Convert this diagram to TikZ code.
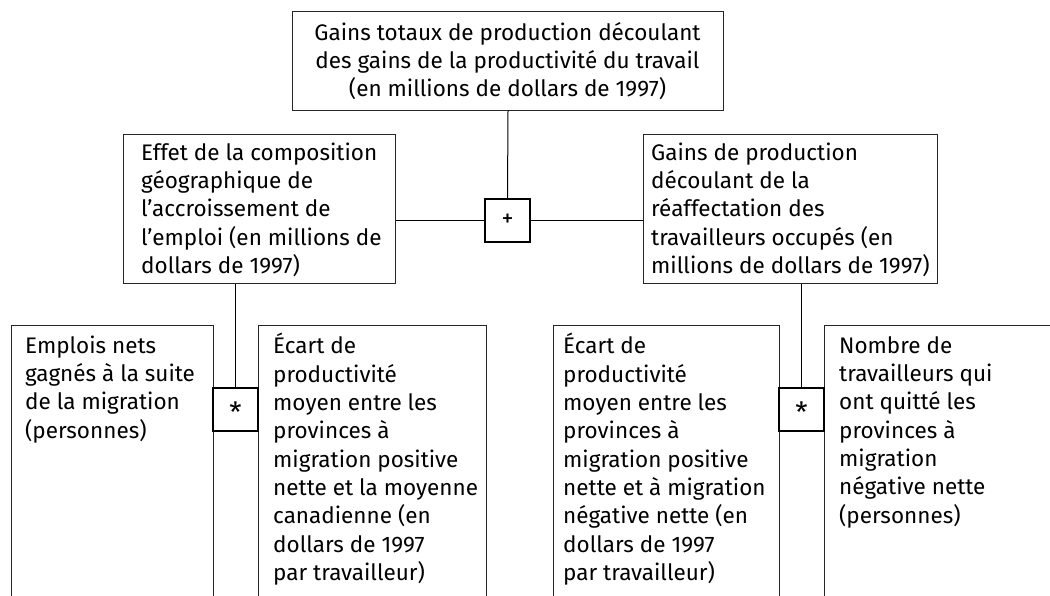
\documentclass[tikz,border=0pt]{standalone}
\usepackage{fontspec}
\setmainfont{Fira Sans}
\usetikzlibrary{calc}
\tikzset{
  frame/.style={draw=black!85, line width=1pt, inner sep=0pt, anchor=north west},
  opbox/.style={draw=black, line width=1.6pt, minimum width=45pt, minimum height=43pt, inner sep=0pt, font=\fontsize{24}{26}\selectfont},
  txt/.style={inner sep=0pt, align=left, anchor=north west, font=\fontsize{22.5}{28.3}\selectfont},
  link/.style={line width=1pt},
}
\begin{document}
\begin{tikzpicture}[x=1pt,y=1pt]
\useasboundingbox (0,0) rectangle (1050,-596);
% boxes
\node[frame, minimum width=431pt, minimum height=99pt] (top) at (292,-11) {};
\node[frame, minimum width=272pt, minimum height=149pt] (lmid) at (123,-134) {};
\node[frame, minimum width=294pt, minimum height=149pt] (rmid) at (643,-134) {};
\node[frame, minimum width=202pt, minimum height=300pt] (ba) at (11,-325) {};
\node[frame, minimum width=228pt, minimum height=300pt] (bb) at (258,-325) {};
\node[frame, minimum width=226pt, minimum height=300pt] (bc) at (553,-325) {};
\node[frame, minimum width=240pt, minimum height=300pt] (bd) at (824,-325) {};
% operators
\node[opbox] (plus) at (507.5,-220.5) {+};
\node[opbox, font=\fontsize{28}{30}\selectfont, text depth=0pt] (star1) at (235.5,-409.5) {\raisebox{-6pt}{*}};
\node[opbox, font=\fontsize{28}{30}\selectfont, text depth=0pt] (star2) at (801.5,-409.5) {\raisebox{-6pt}{*}};
% texts
\node[txt, align=center, anchor=north] (ttop) at (507.5,-20.2) {\strut Gains totaux de production découlant\\des gains de la productivité du travail\\(en millions de dollars de 1997)};
\node[txt] (tlmid) at (141,-140.2) {\strut Effet de la composition\\géographique de\\l’accroissement de\\l’emploi (en millions de\\dollars de 1997)};
\node[txt] (trmid) at (651,-140.2) {\strut Gains de production\\découlant de la\\réaffectation des\\travailleurs occupés (en\\millions de dollars de 1997)};
\node[txt] (tba) at (25,-333.2) {\strut Emplois nets\\gagnés à la suite\\de la migration\\(personnes)};
\node[txt] (tbb) at (273,-333.2) {\strut Écart de\\productivité\\moyen entre les\\provinces à\\migration positive\\nette et la moyenne\\canadienne (en\\dollars de 1997\\par travailleur)};
\node[txt] (tbc) at (563,-333.2) {\strut Écart de\\productivité\\moyen entre les\\provinces à\\migration positive\\nette et à migration\\négative nette (en\\dollars de 1997\\par travailleur)};
\node[txt] (tbd) at (839,-333.2) {\strut Nombre de\\travailleurs qui\\ont quitté les\\provinces à\\migration\\négative nette\\(personnes)};
% connectors
\draw[link] (top.south) -- (plus.north);
\draw[link] (plus.west) -- (plus.west -| lmid.east);
\draw[link] (plus.east) -- (plus.east -| rmid.west);
\draw[link] (star1.north) -- (star1.north |- lmid.south);
\draw[link] (star2.north) -- (star2.north |- rmid.south);
\end{tikzpicture}
\end{document}
